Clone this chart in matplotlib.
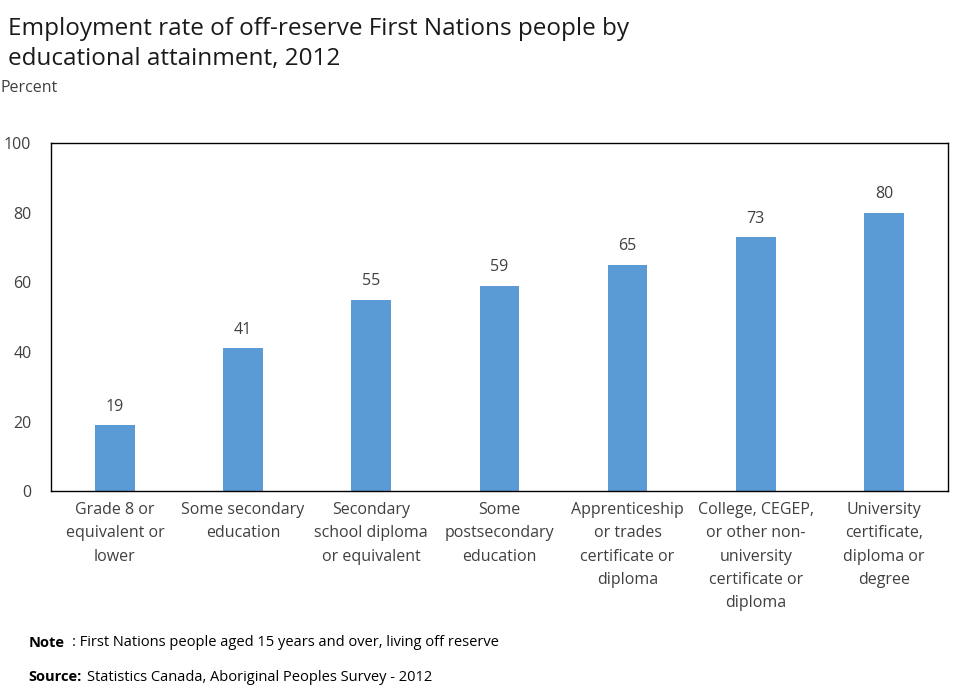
import matplotlib.pyplot as plt

categories = [
    "Grade 8 or\nequivalent or\nlower",
    "Some secondary\neducation",
    "Secondary\nschool diploma\nor equivalent",
    "Some\npostsecondary\neducation",
    "Apprenticeship\nor trades\ncertificate or\ndiploma",
    "College, CEGEP,\nor other non-\nuniversity\ncertificate or\ndiploma",
    "University\ncertificate,\ndiploma or\ndegree",
]
values = [19, 41, 55, 59, 65, 73, 80]

plt.rcParams['font.family'] = ['Open Sans', 'DejaVu Sans']

fig = plt.figure(figsize=(9.59, 6.86), dpi=100)
ax = fig.add_axes([0.053, 0.284, 0.9355, 0.5075])

x = range(len(values))
ax.bar(x, values, width=0.31, color='#5b9bd5')
for i, v in zip(x, values):
    ax.text(i, v + 3, str(v), ha='center', va='bottom', fontsize=11.5, color='#404040')

ax.set_xlim(-0.5, len(values) - 0.5)
ax.set_ylim(0, 100)
ax.set_yticks(range(0, 101, 20))
ax.set_xticks(list(x))
ax.set_xticklabels(categories, fontsize=11.5, color='#404040', linespacing=1.6)
ax.tick_params(axis='y', labelsize=11.5, labelcolor='#404040', length=0, pad=14)
ax.tick_params(axis='x', length=0, pad=8)
for s in ax.spines.values():
    s.set_color('black')
    s.set_linewidth(1)

fig.text(0.008, 0.975, "Employment rate of off-reserve First Nations people by\neducational attainment, 2012",
         fontsize=17.5, va='top', ha='left', linespacing=1.3, color='#1a1a1a')
fig.text(0.0, 0.872, "Percent", fontsize=11.5, color='#404040', va='center')
fig.text(0.03, 0.063, "Note", fontsize=10.5, fontweight='bold', va='center')
fig.text(0.0755, 0.063, ": First Nations people aged 15 years and over, living off reserve",
         fontsize=10.5, va='center')
fig.text(0.03, 0.013, "Source:", fontsize=10.5, fontweight='bold', va='center')
fig.text(0.091, 0.013, "Statistics Canada, Aboriginal Peoples Survey - 2012",
         fontsize=10.5, va='center')

fig.savefig("out.png", dpi=100)
